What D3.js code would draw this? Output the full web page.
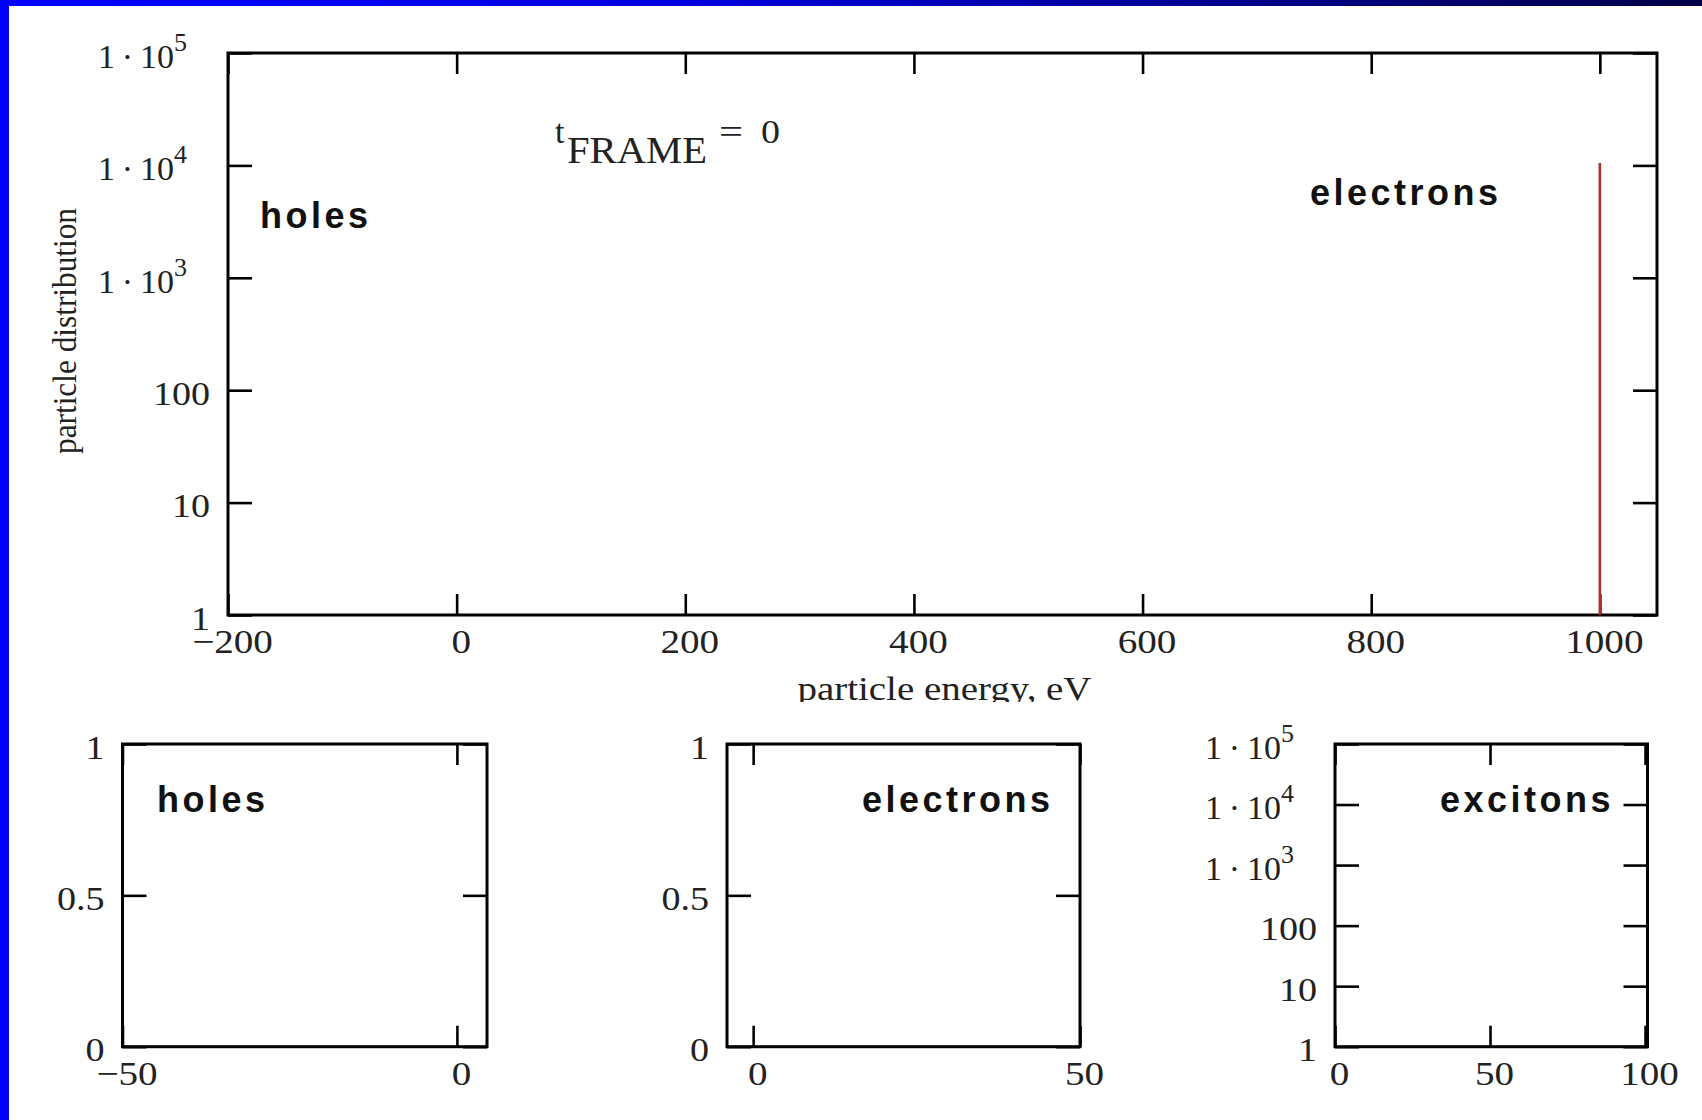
<!DOCTYPE html>
<html>
<head>
<meta charset="utf-8">
<script src="https://cdn.jsdelivr.net/npm/d3@7"></script>
<style>
  body { margin: 0; background: #fff; }
  svg { display: block; }
</style>
</head>
<body>
<svg id="chart" width="1702" height="1120"></svg>
<script>
// values
const energyTicks = [-200, 0, 200, 400, 600, 800, 1000];
const countTicks = [1, 10, 100, 1e3, 1e4, 1e5];
const electronEnergy = [1000, 1000];
const electronCount = [1, 10500];
const holeTicks = [-50, 0];
const electronTicks = [0, 50];
const excitonTicks = [0, 50, 100];
const fractionTicks = [0, 0.5, 1];

const SERIF = '"Liberation Serif", "Times New Roman", serif';
const SANS = '"Liberation Sans", Arial, sans-serif';

const svg = d3.select('#chart');
svg.append('rect').attr('width', 1702).attr('height', 1120).attr('fill', '#fff');

// slide frame: blue bar on the left, gradient bar on top
const defs = svg.append('defs');
const grad = defs.append('linearGradient').attr('id', 'topbar');
grad.append('stop').attr('offset', '0%').attr('stop-color', '#0000ff');
grad.append('stop').attr('offset', '40%').attr('stop-color', '#0000e0');
grad.append('stop').attr('offset', '100%').attr('stop-color', '#000048');
svg.append('rect').attr('x', 0).attr('y', 0).attr('width', 1702).attr('height', 6).attr('fill', 'url(#topbar)');
svg.append('rect').attr('x', 0).attr('y', 0).attr('width', 9).attr('height', 1120).attr('fill', '#0000f5');

function powLabels(sel, shift) {
  sel.selectAll('.tick text').each(function (d) {
    if (d < 1000) return;
    const t = d3.select(this);
    t.text(null).attr('x', shift);
    t.append('tspan').text('1\u2009\u00b7\u200910');
    t.append('tspan').attr('dy', -17).attr('font-size', 26).text(Math.round(Math.log10(d)));
  });
}

// the reference digits are a little wider than Liberation Serif
function widen(sel, k) {
  sel.selectAll('.tick text').each(function () {
    if (!this.textContent) return;
    const w = this.getComputedTextLength();
    d3.select(this).attr('textLength', w * k).attr('lengthAdjust', 'spacingAndGlyphs');
  });
}

function panel(box, x, y, xTicks, yTicks, isLog) {
  const g = svg.append('g');
  const fmtY = isLog ? (d) => (d >= 1000 ? '' : String(d)) : (d) => String(d);

  const bottom = g.append('g')
    .attr('transform', `translate(0,${box.y1})`)
    .call(d3.axisBottom(x).tickValues(xTicks).tickSizeInner(-21).tickSizeOuter(0).tickPadding(14).tickFormat(d3.format('d')));
  const top = g.append('g')
    .attr('transform', `translate(0,${box.y0})`)
    .call(d3.axisTop(x).tickValues(xTicks).tickSizeInner(-21).tickSizeOuter(0).tickFormat(''));
  const left = g.append('g')
    .attr('transform', `translate(${box.x0},0)`)
    .call(d3.axisLeft(y).tickValues(yTicks).tickSizeInner(-24).tickSizeOuter(0).tickPadding(18).tickFormat(fmtY));
  const right = g.append('g')
    .attr('transform', `translate(${box.x1},0)`)
    .call(d3.axisRight(y).tickValues(yTicks).tickSizeInner(-24).tickSizeOuter(0).tickFormat(''));

  [bottom, top, left, right].forEach((a) => {
    a.select('.domain').remove();
    a.attr('font-size', 34).attr('font-family', SERIF);
    a.selectAll('.tick line').attr('stroke', '#000').attr('stroke-width', 2.6);
    a.selectAll('.tick text').attr('fill', '#222');
  });
  bottom.selectAll('.tick text').attr('x', 4);
  left.selectAll('.tick text').attr('dy', '0.42em');
  widen(bottom, 1.15);
  widen(left, 1.12);
  if (isLog) powLabels(left, -41);

  g.append('rect')
    .attr('x', box.x0).attr('y', box.y0)
    .attr('width', box.x1 - box.x0).attr('height', box.y1 - box.y0)
    .attr('fill', 'none').attr('stroke', '#000').attr('stroke-width', 3);
  return g;
}

function tag(text, x, yBase) {
  svg.append('text')
    .attr('x', x).attr('y', yBase)
    .attr('font-family', SANS).attr('font-weight', 'bold')
    .attr('font-size', 36).attr('letter-spacing', 3.5)
    .attr('fill', '#111').text(text);
}

// main plot
const mainBox = { x0: 228, x1: 1657, y0: 53, y1: 615 };
const xMain = d3.scaleLinear().domain([-200, 1050]).range([mainBox.x0, mainBox.x1]);
const yMain = d3.scaleLog().domain([1, 1e5]).range([mainBox.y1, mainBox.y0]);
panel(mainBox, xMain, yMain, energyTicks, countTicks, true);

const spike = electronEnergy.map((e, i) => [e, electronCount[i]]);
svg.append('path')
  .datum(spike)
  .attr('d', d3.line().x((d) => xMain(d[0])).y((d) => yMain(d[1])))
  .attr('fill', 'none').attr('stroke', '#b03030').attr('stroke-width', 2.6);

tag('holes', 260, 228);
tag('electrons', 1310, 205);

// t_FRAME = 0
const tf = svg.append('g').attr('font-family', SERIF).attr('fill', '#222');
tf.append('text').attr('x', 555).attr('y', 143).attr('font-size', 34).text('t');
tf.append('text').attr('x', 567).attr('y', 163).attr('font-size', 38)
  .attr('textLength', 140).attr('lengthAdjust', 'spacingAndGlyphs').text('FRAME');
tf.append('text').attr('x', 719).attr('y', 143).attr('font-size', 34)
  .attr('textLength', 24).attr('lengthAdjust', 'spacingAndGlyphs').text('=');
tf.append('text').attr('x', 761).attr('y', 143).attr('font-size', 34)
  .attr('textLength', 19).attr('lengthAdjust', 'spacingAndGlyphs').text('0');

// axis titles
defs.append('clipPath').attr('id', 'xtclip')
  .append('rect').attr('x', 0).attr('y', 0).attr('width', 1702).attr('height', 702);
svg.append('text')
  .attr('clip-path', 'url(#xtclip)')
  .attr('x', (mainBox.x0 + mainBox.x1) / 2 + 2).attr('y', 700)
  .attr('text-anchor', 'middle')
  .attr('font-family', SERIF).attr('font-size', 33).attr('fill', '#222')
  .attr('textLength', 294).attr('lengthAdjust', 'spacingAndGlyphs')
  .text('particle energy, eV');
svg.append('text')
  .attr('transform', `translate(76,${(mainBox.y0 + mainBox.y1) / 2 - 3}) rotate(-90)`)
  .attr('text-anchor', 'middle')
  .attr('font-family', SERIF).attr('font-size', 33).attr('fill', '#222')
  .attr('textLength', 246).attr('lengthAdjust', 'spacingAndGlyphs')
  .text('particle distribution');

// lower panels
const holesBox = { x0: 122.5, x1: 487, y0: 744, y1: 1046.7 };
panel(holesBox,
  d3.scaleLinear().domain([-50, 4.5]).range([holesBox.x0, holesBox.x1]),
  d3.scaleLinear().domain([0, 1]).range([holesBox.y1, holesBox.y0]),
  holeTicks, fractionTicks, false);
tag('holes', 157, 812);

const elecBox = { x0: 727, x1: 1080, y0: 744, y1: 1046.7 };
panel(elecBox,
  d3.scaleLinear().domain([-4, 50]).range([elecBox.x0, elecBox.x1]),
  d3.scaleLinear().domain([0, 1]).range([elecBox.y1, elecBox.y0]),
  electronTicks, fractionTicks, false);
tag('electrons', 862, 812);

const excBox = { x0: 1335, x1: 1647.5, y0: 744, y1: 1046.7 };
panel(excBox,
  d3.scaleLinear().domain([0, 100.8]).range([excBox.x0, excBox.x1]),
  d3.scaleLog().domain([1, 1e5]).range([excBox.y1, excBox.y0]),
  excitonTicks, countTicks, true);
tag('excitons', 1440, 812);
</script>
</body>
</html>
